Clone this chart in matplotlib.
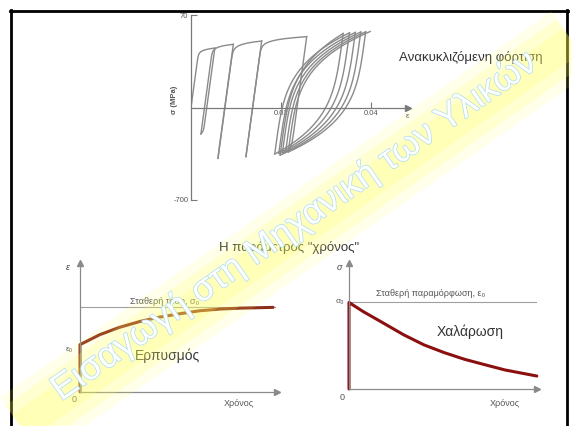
import numpy as np
import matplotlib
matplotlib.use("Agg")
from matplotlib import pyplot as plt
import matplotlib.patheffects as pe

plt.rcParams['font.family'] = ['Liberation Sans', 'DejaVu Sans']

# ratcheting (cyclic loading) turning points, strain / stress (MPa)
turn_strain = [0, 0.0053, 0.0022, 0.0094, 0.0060, 0.0157, 0.0122, 0.0257, 0.0198,
               0.0338, 0.0186, 0.0352, 0.0195, 0.0365, 0.0203, 0.0377, 0.0210,
               0.0388, 0.0216, 0.0398]
turn_stress = [0, 450, -200, 478, -385, 503, -372, 536, -360,
               560, -352, 565, -347, 568, -343, 571, -340, 573, -337, 575]
# knee sharpness of every branch between turning points
branch_sharp = [30, 40, 40, 40, 40, 40, 40, 30, 4, 4, 4, 4, 4, 4, 4, 4, 4, 4, 4]
cyc_ticks = [0.02, 0.04]
cyc_ticklabels = ["0.02", "0.04"]
stress_ticks = [-700, 700]
stress_ticklabels = ["-700", "70"]

# creep: strain against time (ε0 jump at t = 0)
creep_t = [0, 0, 1.0, 2.0, 3.05, 4.06, 5.08, 6.09, 7.11, 8.12, 9.8]
creep_eps = [0, 3.67, 4.44, 5.01, 5.47, 5.81, 6.07, 6.30, 6.43, 6.50, 6.56]
creep_level = 6.56

# relaxation: stress against time (σ0 jump at t = 0)
relax_t = [0, 0, 0.75, 1.83, 2.91, 3.99, 5.06, 6.14, 7.22, 8.30, 9.99]
relax_sig = [0, 6.87, 6.15, 5.23, 4.30, 3.50, 2.89, 2.36, 1.93, 1.51, 1.03]
relax_level = 6.87

W, H = 571, 426
E_MOD = 250000.0


def branch(x0, y0, x1, y1, n):
    # elastic part then plastic flow, ending exactly at the next turning point
    s = np.linspace(0, y1 - y0, 120)
    ds = y1 - y0
    plastic = (x1 - x0) - ds / E_MOD
    x = x0 + s / E_MOD + plastic * np.abs(s / ds) ** n
    return x, y0 + s


def px_axes(fig, x0, y0, x1, y1):
    # axes placed by pixel box of the slide
    return fig.add_axes([x0 / W, 1 - y1 / H, (x1 - x0) / W, (y1 - y0) / H])


def arrow_axes(ax, color):
    for s in ['top', 'right']:
        ax.spines[s].set_visible(False)
    for s in ['left', 'bottom']:
        ax.spines[s].set_color(color)
        ax.spines[s].set_linewidth(0.9)
    ax.plot(1, 0, '>', color=color, ms=4, transform=ax.transAxes, clip_on=False)
    ax.plot(0, 1, '^', color=color, ms=4, transform=ax.transAxes, clip_on=False)
    ax.set_xticks([])
    ax.set_yticks([])
    ax.patch.set_alpha(0)


fig = plt.figure(figsize=(W / 100, H / 100), dpi=100)

# slide background: frame and texts in pixel coordinates
bg = fig.add_axes([0, 0, 1, 1])
bg.set_xlim(0, W)
bg.set_ylim(H, 0)
bg.axis('off')
bg.plot([10, 568], [10.5, 10.5], color='black', lw=2)
bg.plot([11, 11], [10, H], color='black', lw=2)
bg.plot([567, 567], [10, H], color='black', lw=2)

txt = '#333333'
bg.text(471, 57, "Ανακυκλιζόμενη φόρτιση", fontsize=9.5, color=txt, ha='center', va='center')
bg.text(289, 247, 'Η παράμετρος "χρόνος"', fontsize=9.5, color=txt, ha='center', va='center')
bg.text(174, 100, "σ (MPa)", fontsize=5.5, fontweight='bold', color='#555555',
        rotation=90, ha='center', va='center')

# creep labels
bg.text(68, 267, "ε", fontsize=6.5, style='italic', color='#444444', ha='center', va='center')
bg.text(130, 301, "Σταθερή τάση, σ₀", fontsize=6.5, color='#555555', ha='left', va='center')
bg.text(69, 349, "ε₀", fontsize=6, color='#555555', ha='center', va='center')
bg.text(135, 356, "Ερπυσμός", fontsize=10, color=txt, ha='left', va='center')
bg.text(74, 399, "0", fontsize=6.5, color='#555555', ha='center', va='center')
bg.text(224, 403, "Χρόνος", fontsize=6.5, color='#555555', ha='left', va='center')

# relaxation labels
bg.text(339, 267, "σ", fontsize=6.5, style='italic', color='#444444', ha='center', va='center')
bg.text(340, 302, "σ₀", fontsize=6, color='#555555', ha='center', va='center')
bg.text(376, 293, "Σταθερή παραμόρφωση, ε₀", fontsize=6.5, color='#555555', ha='left', va='center')
bg.text(437, 332, "Χαλάρωση", fontsize=10, color=txt, ha='left', va='center')
bg.text(342, 397, "0", fontsize=6.5, color='#555555', ha='center', va='center')
bg.text(490, 404, "Χρόνος", fontsize=6.5, color='#555555', ha='left', va='center')

# cyclic loading loops
ax1 = px_axes(fig, 191, 15, 408, 200)
for i in range(len(turn_strain) - 1):
    bx, by = branch(turn_strain[i], turn_stress[i], turn_strain[i + 1], turn_stress[i + 1],
                    branch_sharp[i])
    ax1.plot(bx, by, color='#8a8a8a', lw=1.0)
ax1.set_xlim(0, 0.0482)
ax1.set_ylim(-700, 700)
ax1.patch.set_alpha(0)
for s in ['top', 'right']:
    ax1.spines[s].set_visible(False)
ax1.spines['left'].set_position(('data', 0))
ax1.spines['left'].set_bounds(-700, 700)
ax1.spines['bottom'].set_position(('data', 0))
for s in ['left', 'bottom']:
    ax1.spines[s].set_color('#7a7a7a')
    ax1.spines[s].set_linewidth(0.9)
ax1.plot(1, 0, '>', color='#7a7a7a', ms=4, transform=ax1.get_yaxis_transform(), clip_on=False)
ax1.set_xticks(cyc_ticks)
ax1.set_xticklabels(cyc_ticklabels)
ax1.set_yticks(stress_ticks)
ax1.set_yticklabels(stress_ticklabels)
ax1.tick_params(direction='in', length=4, width=0.8, color='#7a7a7a', labelsize=5.5,
                labelcolor='#555555', pad=2)
ax1.text(0.0482, -45, "ε", fontsize=6, color='#555555', ha='center', va='top')

# creep panel
ax2 = px_axes(fig, 80, 263, 277, 392)
ax2.plot([0, 9.9], [creep_level, creep_level], color='#a0a0a0', lw=0.8)
ax2.plot(creep_t, creep_eps, color='#8e2d1a', lw=2.2, solid_capstyle='round', clip_on=False)
ax2.set_xlim(0, 10)
ax2.set_ylim(0, 10)
arrow_axes(ax2, '#8a8a8a')

# relaxation panel
ax3 = px_axes(fig, 349, 263, 537, 389)
ax3.plot([0, 10], [relax_level, relax_level], color='#a0a0a0', lw=0.8)
ax3.plot(relax_t, relax_sig, color='#8b0f0f', lw=2.2, solid_capstyle='round', clip_on=False)
ax3.set_xlim(0, 10)
ax3.set_ylim(0, 10)
arrow_axes(ax3, '#8a8a8a')

# watermark on top of everything
wm = fig.add_axes([0, 0, 1, 1], zorder=10)
wm.set_xlim(0, W)
wm.set_ylim(H, 0)
wm.axis('off')
ang = 35.0
k = np.tan(np.radians(ang))
cx, cy = 294, 226
# band sits a little below the text
off = 8
bcx = cx + off * np.sin(np.radians(ang))
bcy = cy + off * np.cos(np.radians(ang))
bx = np.array([-20, W + 20])
by = bcy - (bx - bcx) * k
for lw, a in [(52, 0.12), (38, 0.18), (22, 0.2)]:
    wm.plot(bx, by, color='#ffff5a', lw=lw, alpha=a, solid_capstyle='butt')
wm.text(cx, cy, "Εισαγωγή στη Μηχανική των Υλικών", fontsize=26, color='white',
        rotation=ang, rotation_mode='anchor', ha='center', va='center',
        path_effects=[pe.withStroke(linewidth=1.1, foreground='#b4def2')])

fig.savefig("out.png", dpi=100)
